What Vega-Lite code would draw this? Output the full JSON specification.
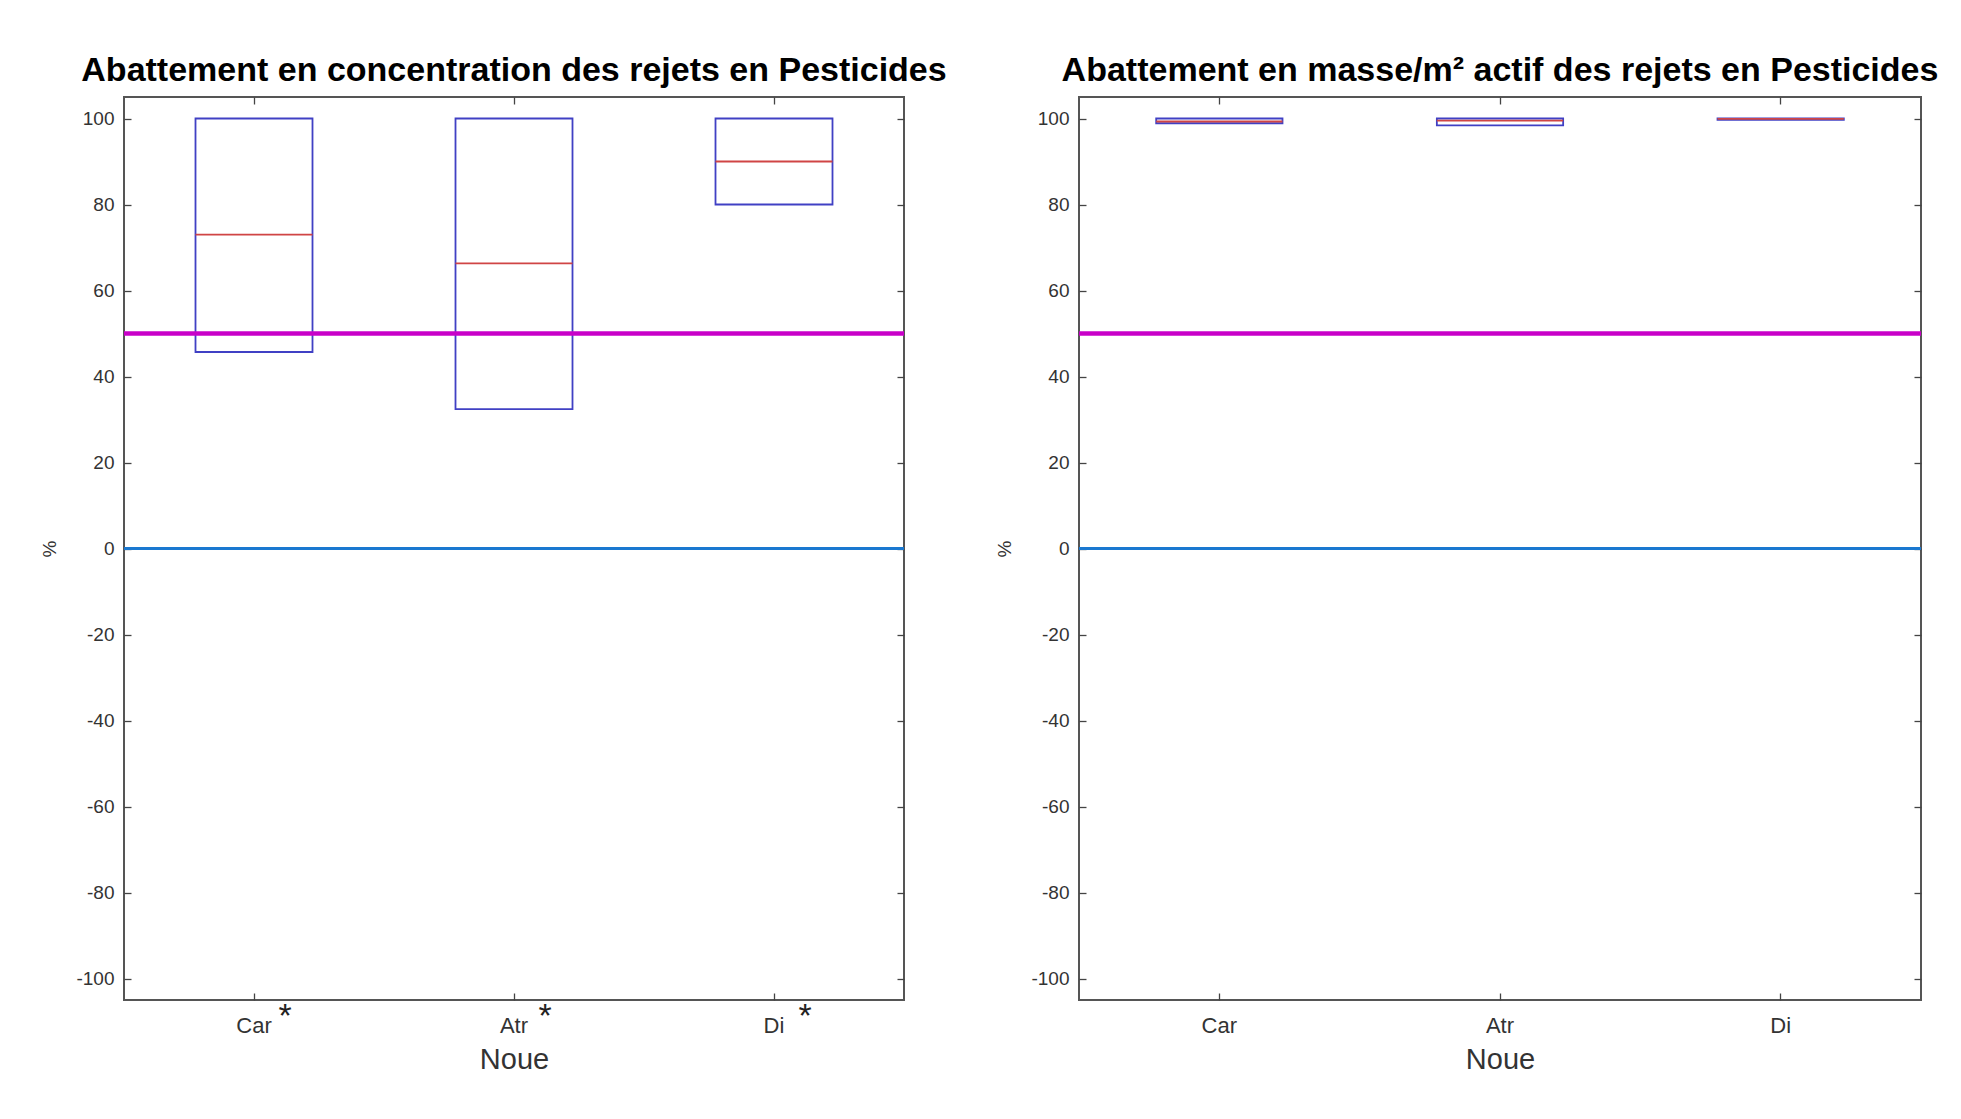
{
  "$schema": "https://vega.github.io/schema/vega-lite/v6.json",
  "background": "white",
  "padding": {"left": 39, "top": 53, "right": 0, "bottom": 0},
  "bounds": "flush",
  "spacing": 175,
  "datasets": {
    "conc": [
      {"cat": "Car", "q1": 45.7, "med": 73.0, "q3": 100, "star": "*"},
      {"cat": "Atr", "q1": 32.4, "med": 66.3, "q3": 100, "star": "*"},
      {"cat": "Di", "q1": 80.0, "med": 90.0, "q3": 100, "star": "*"}
    ],
    "masse": [
      {"cat": "Car", "q1": 98.9, "med": 99.3, "q3": 100},
      {"cat": "Atr", "q1": 98.4, "med": 99.5, "q3": 100},
      {"cat": "Di", "q1": 99.7, "med": 99.9, "q3": 100}
    ],
    "one": [{"k": 1}]
  },
  "hconcat": [
    {
      "title": {"text": "Abattement en concentration des rejets en Pesticides"},
      "width": 780,
      "height": 903,
      "resolve": {"axis": {"x": "independent", "y": "independent"}},
      "layer": [
        {
          "data": {"name": "conc"},
          "mark": {"type": "bar", "filled": false, "stroke": "#4040c4", "strokeWidth": 1.8, "width": {"band": 0.45}},
          "encoding": {
            "x": {"field": "cat", "type": "nominal", "sort": null, "scale": {"paddingInner": 0, "paddingOuter": 0}, "axis": {"orient": "bottom", "title": "Noue", "labelAngle": 0}},
            "y": {"field": "q1", "type": "quantitative", "scale": {"domain": [-105, 105], "nice": false, "zero": false}, "axis": {"orient": "left", "title": "%", "values": [-100, -80, -60, -40, -20, 0, 20, 40, 60, 80, 100], "labelExpr": "'' + datum.value"}},
            "y2": {"field": "q3"}
          }
        },
        {
          "data": {"name": "conc"},
          "mark": {"type": "bar", "filled": false, "stroke": "#d04545", "strokeWidth": 1.8, "width": {"band": 0.45}},
          "encoding": {
            "x": {"field": "cat", "type": "nominal", "sort": null, "axis": {"orient": "top", "labels": false, "title": null}},
            "y": {"field": "med", "type": "quantitative", "axis": {"orient": "right", "labels": false, "title": null, "values": [-100, -80, -60, -40, -20, 0, 20, 40, 60, 80, 100]}},
            "y2": {"field": "med"}
          }
        },
        {
          "data": {"name": "one"},
          "mark": {"type": "rule", "stroke": "#c800c8", "strokeWidth": 4.5},
          "encoding": {"y": {"datum": 50, "type": "quantitative", "axis": null}}
        },
        {
          "data": {"name": "one"},
          "mark": {"type": "rule", "stroke": "#1a78d0", "strokeWidth": 3},
          "encoding": {"y": {"datum": 0, "type": "quantitative", "axis": null}}
        },
        {
          "data": {"name": "conc"},
          "mark": {"type": "text", "fontSize": 34, "font": "Liberation Sans", "color": "#222", "dx": 31, "dy": 0, "baseline": "top"},
          "encoding": {
            "x": {"field": "cat", "type": "nominal", "sort": null, "axis": null},
            "y": {"datum": -105, "type": "quantitative", "axis": null},
            "text": {"field": "star"}
          }
        }
      ]
    },
    {
      "title": {"text": "Abattement en masse/m² actif des rejets en Pesticides"},
      "width": 842,
      "height": 903,
      "resolve": {"axis": {"x": "independent", "y": "independent"}},
      "layer": [
        {
          "data": {"name": "masse"},
          "mark": {"type": "bar", "filled": false, "stroke": "#4040c4", "strokeWidth": 1.8, "width": {"band": 0.45}},
          "encoding": {
            "x": {"field": "cat", "type": "nominal", "sort": null, "scale": {"paddingInner": 0, "paddingOuter": 0}, "axis": {"orient": "bottom", "title": "Noue", "labelAngle": 0}},
            "y": {"field": "q1", "type": "quantitative", "scale": {"domain": [-105, 105], "nice": false, "zero": false}, "axis": {"orient": "left", "title": "%", "values": [-100, -80, -60, -40, -20, 0, 20, 40, 60, 80, 100], "labelExpr": "'' + datum.value"}},
            "y2": {"field": "q3"}
          }
        },
        {
          "data": {"name": "masse"},
          "mark": {"type": "bar", "filled": false, "stroke": "#d04545", "strokeWidth": 1.8, "width": {"band": 0.45}},
          "encoding": {
            "x": {"field": "cat", "type": "nominal", "sort": null, "axis": {"orient": "top", "labels": false, "title": null}},
            "y": {"field": "med", "type": "quantitative", "axis": {"orient": "right", "labels": false, "title": null, "values": [-100, -80, -60, -40, -20, 0, 20, 40, 60, 80, 100]}},
            "y2": {"field": "med"}
          }
        },
        {
          "data": {"name": "one"},
          "mark": {"type": "rule", "stroke": "#c800c8", "strokeWidth": 4.5},
          "encoding": {"y": {"datum": 50, "type": "quantitative", "axis": null}}
        },
        {
          "data": {"name": "one"},
          "mark": {"type": "rule", "stroke": "#1a78d0", "strokeWidth": 3},
          "encoding": {"y": {"datum": 0, "type": "quantitative", "axis": null}}
        }
      ]
    }
  ],
  "config": {
    "view": {"stroke": "#555555", "strokeWidth": 2},
    "title": {"font": "Liberation Sans", "fontSize": 34, "fontWeight": "bold", "color": "#000000", "anchor": "middle", "offset": 8},
    "axis": {
      "domain": false,
      "grid": false,
      "ticks": true,
      "tickColor": "#444444",
      "tickSize": -7,
      "tickWidth": 1.3,
      "labelFont": "Liberation Sans",
      "labelColor": "#333333",
      "titleFont": "Liberation Sans",
      "titleFontWeight": "normal",
      "titleColor": "#333333"
    },
    "axisX": {"titleFontSize": 29, "titlePadding": 9, "labelPadding": 22, "labelFontSize": 22},
    "axisY": {"titleFontSize": 19, "titlePadding": 16, "labelPadding": 17, "labelFontSize": 19}
  }
}
